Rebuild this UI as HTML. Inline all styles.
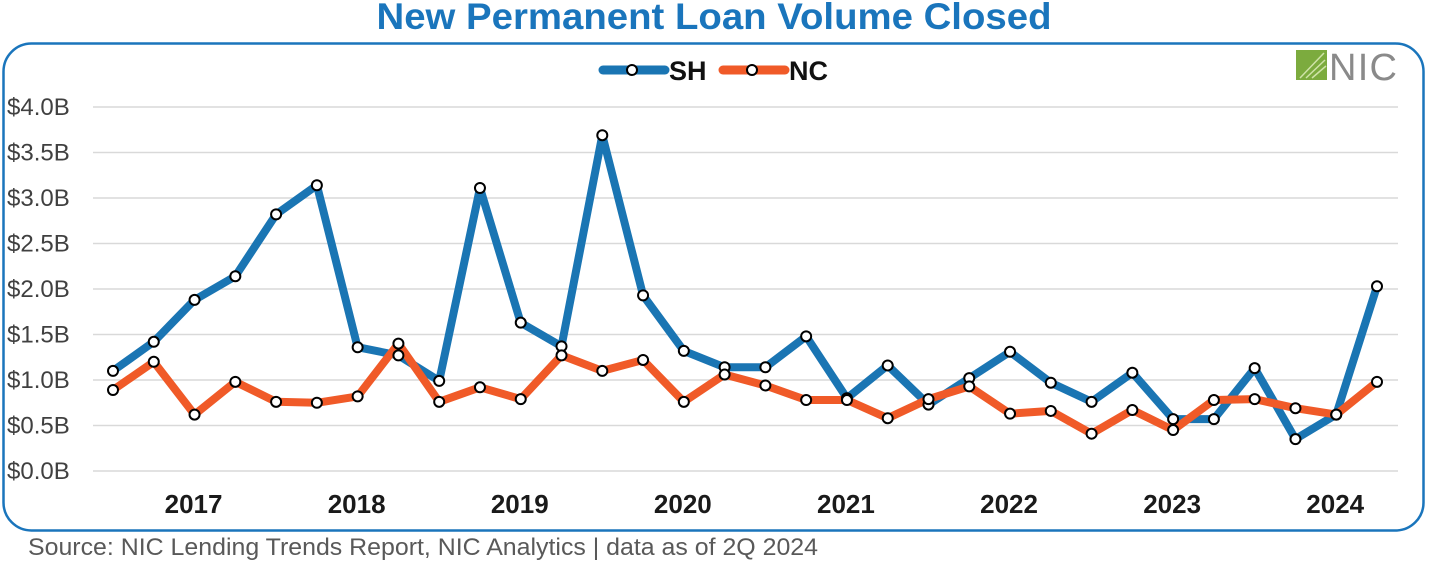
<!DOCTYPE html>
<html><head><meta charset="utf-8"><style>
body{margin:0;background:#fff;}
svg{display:block;font-family:"Liberation Sans",Arial,sans-serif;}
</style></head><body>
<svg width="1430" height="564" viewBox="0 0 1430 564" xmlns="http://www.w3.org/2000/svg">
<text x="714" y="29" text-anchor="middle" font-size="37" font-weight="bold" fill="#1a75bc" textLength="675" lengthAdjust="spacingAndGlyphs">New Permanent Loan Volume Closed</text>
<rect x="3.5" y="43.5" width="1420" height="487" rx="28" fill="none" stroke="#1a75bc" stroke-width="2.5"/>
<g stroke="#d9d9d9" stroke-width="1.5">
<line x1="93" x2="1398" y1="107" y2="107"/><line x1="93" x2="1398" y1="152.5" y2="152.5"/>
<line x1="93" x2="1398" y1="198" y2="198"/><line x1="93" x2="1398" y1="243.5" y2="243.5"/>
<line x1="93" x2="1398" y1="289" y2="289"/><line x1="93" x2="1398" y1="334.5" y2="334.5"/>
<line x1="93" x2="1398" y1="380" y2="380"/><line x1="93" x2="1398" y1="425.5" y2="425.5"/>
<line x1="93" x2="1398" y1="471" y2="471"/>
</g>
<g font-size="24" fill="#404040">
<text x="7" y="115">$4.0B</text><text x="7" y="160.5">$3.5B</text><text x="7" y="206">$3.0B</text>
<text x="7" y="251.5">$2.5B</text><text x="7" y="297">$2.0B</text><text x="7" y="342.5">$1.5B</text>
<text x="7" y="388">$1.0B</text><text x="7" y="433.5">$0.5B</text><text x="7" y="479">$0.0B</text>
</g>
<g font-size="26" font-weight="bold" fill="#1a1a1a" text-anchor="middle" id="xl"></g>
<g id="plot"></g>
<g>
<line x1="603" y1="70" x2="665" y2="70" stroke="#1a75b3" stroke-width="9" stroke-linecap="round"/>
<circle cx="632" cy="70" r="5" fill="#fff" stroke="#000" stroke-width="2"/>
<text x="669" y="80" font-size="27" font-weight="bold" fill="#111">SH</text>
<line x1="723" y1="70" x2="785" y2="70" stroke="#f05a28" stroke-width="9" stroke-linecap="round"/>
<circle cx="752" cy="70" r="5" fill="#fff" stroke="#000" stroke-width="2"/>
<text x="789" y="80" font-size="27" font-weight="bold" fill="#111">NC</text>
</g>
<rect x="1296" y="50" width="31" height="30" fill="#7cab3e"/>
<path d="M1300 78 L1324 53 M1306 78 L1325 60 M1312 78 L1326 66" stroke="#cfe3a8" stroke-width="1.5"/>
<text x="1329" y="80" font-size="38" fill="#8a8a8a" textLength="68">NIC</text>
<text x="28" y="555" font-size="24" fill="#595959" textLength="790" lengthAdjust="spacingAndGlyphs">Source: NIC Lending Trends Report, NIC Analytics | data as of 2Q 2024</text>
</svg>
<script>
const sh=[1.1,1.42,1.88,2.14,2.82,3.14,1.36,1.27,0.99,3.11,1.63,1.37,3.69,1.93,1.32,1.14,1.14,1.48,0.80,1.16,0.73,1.02,1.31,0.97,0.76,1.08,0.57,0.57,1.13,0.35,0.62,2.03];
const nc=[0.89,1.20,0.62,0.98,0.76,0.75,0.82,1.40,0.76,0.92,0.79,1.27,1.10,1.22,0.76,1.06,0.94,0.78,0.78,0.58,0.79,0.93,0.63,0.66,0.41,0.67,0.45,0.78,0.79,0.69,0.62,0.98];
const X=i=>113+i*(1377-113)/31, Y=v=>471-v*91;
const ns="http://www.w3.org/2000/svg",p=document.getElementById('plot');
function ser(d,c){const pl=document.createElementNS(ns,'polyline');
pl.setAttribute('points',d.map((v,i)=>X(i).toFixed(1)+','+Y(v).toFixed(1)).join(' '));
pl.setAttribute('fill','none');pl.setAttribute('stroke',c);pl.setAttribute('stroke-width','8');pl.setAttribute('stroke-linejoin','round');p.appendChild(pl);}
function mk(d){d.forEach((v,i)=>{const c=document.createElementNS(ns,'circle');c.setAttribute('cx',X(i));c.setAttribute('cy',Y(v));c.setAttribute('r','5');c.setAttribute('fill','#fff');c.setAttribute('stroke','#000');c.setAttribute('stroke-width','2');p.appendChild(c);});}
ser(sh,'#1a75b3');ser(nc,'#f05a28');mk(sh);mk(nc);
const xl=document.getElementById('xl');
for(let k=0;k<8;k++){const t=document.createElementNS(ns,'text');t.setAttribute('x',X(2+4*k)-1);t.setAttribute('y',513);t.textContent=2017+k;xl.appendChild(t);}
</script>
</body></html>
